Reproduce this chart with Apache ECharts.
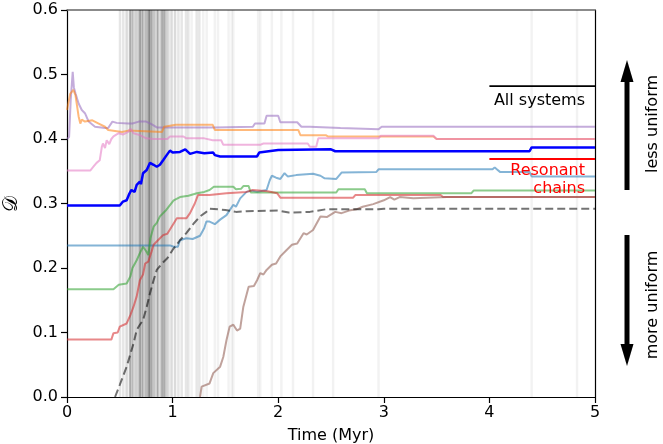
<!DOCTYPE html>
<html>
<head>
<meta charset="utf-8">
<script src="https://cdn.jsdelivr.net/npm/echarts@6/dist/echarts.min.js"></script>
<style>
  html, body { margin: 0; padding: 0; background: #fff; }
  #chart { width: 663px; height: 444px; }
</style>
</head>
<body>
<div id="chart"></div>
<script>
// Axis ticks
const xTicks = [0, 1, 2, 3, 4, 5];
const yTicks = [0.0, 0.1, 0.2, 0.3, 0.4, 0.5, 0.6];

// Times of instability events (Myr) and how many systems had one there
const eventTimes  = [0.502, 0.533, 0.565, 0.597, 0.612, 0.628, 0.653, 0.675, 0.691, 0.707, 0.723, 0.748, 0.773, 0.79, 0.802, 0.824, 0.849, 0.865, 0.896, 0.918, 0.938, 0.96, 0.99, 1.023, 1.055, 1.086, 1.127, 1.149, 1.18, 1.228, 1.253, 1.29, 1.323, 1.40, 1.43, 1.53, 1.56, 1.575, 1.81, 1.83, 1.94, 2.03, 2.14, 2.33, 2.52, 2.95, 4.40, 4.83];
const eventCounts = [2, 2, 3, 6, 3, 4, 4, 3, 7, 4, 5, 6, 10, 5, 5, 5, 4, 5, 7, 7, 4, 3, 3, 3, 2, 2, 2, 2, 1, 2, 2, 1, 1, 1, 1, 1, 1, 1, 1, 1, 1, 1, 1, 1, 1, 1, 1, 1];

// Uniformity D(t) of individual systems: [time (Myr), D]
const purpleRun = [[0,0.40],[0.02,0.403],[0.035,0.46],[0.054,0.504],[0.065,0.48],[0.08,0.471],[0.11,0.455],[0.14,0.445],[0.17,0.44],[0.205,0.427],[0.265,0.419],[0.36,0.417],[0.39,0.417],[0.43,0.427],[0.47,0.425],[0.58,0.424],[0.62,0.424],[0.68,0.427],[0.75,0.427],[0.8,0.423],[0.85,0.418],[1.4,0.418],[1.76,0.419],[1.78,0.424],[1.87,0.424],[1.89,0.436],[2.0,0.436],[2.02,0.426],[2.18,0.426],[2.22,0.419],[2.3,0.419],[2.59,0.417],[2.95,0.415],[2.98,0.419],[5,0.419]];
const orangeRun = [[0,0.445],[0.01,0.445],[0.03,0.47],[0.06,0.476],[0.08,0.468],[0.11,0.435],[0.126,0.424],[0.14,0.43],[0.17,0.427],[0.24,0.429],[0.3,0.424],[0.36,0.419],[0.39,0.414],[0.52,0.411],[0.58,0.413],[0.9,0.411],[0.92,0.419],[1.03,0.422],[1.38,0.422],[1.40,0.414],[2.19,0.414],[2.21,0.406],[2.45,0.406],[2.47,0.404],[3.47,0.404],[3.5,0.40],[5,0.40]];
const pinkRun = [[0,0.351],[0.22,0.351],[0.25,0.357],[0.28,0.363],[0.31,0.367],[0.33,0.388],[0.34,0.393],[0.36,0.386],[0.376,0.398],[0.40,0.392],[0.42,0.40],[0.44,0.404],[0.49,0.409],[0.53,0.407],[0.58,0.411],[0.6,0.416],[0.63,0.409],[0.69,0.406],[0.75,0.401],[0.82,0.4],[0.95,0.4],[0.975,0.404],[1.1,0.404],[1.13,0.401],[1.3,0.401],[1.38,0.398],[1.46,0.398],[1.48,0.391],[1.83,0.391],[1.86,0.393],[2.28,0.393],[2.30,0.388],[2.36,0.388],[2.38,0.401],[2.95,0.401],[2.97,0.405],[3.47,0.405],[3.5,0.40],[5,0.40]];
const blueRun = [[0,0.297],[0.5,0.297],[0.53,0.303],[0.565,0.305],[0.59,0.315],[0.61,0.321],[0.64,0.318],[0.66,0.329],[0.69,0.334],[0.7,0.33],[0.72,0.347],[0.755,0.352],[0.786,0.363],[0.82,0.36],[0.85,0.357],[0.88,0.36],[0.91,0.367],[0.944,0.375],[0.975,0.382],[1.0,0.379],[1.07,0.38],[1.12,0.384],[1.165,0.377],[1.23,0.38],[1.3,0.378],[1.385,0.379],[1.40,0.375],[1.45,0.373],[1.8,0.373],[1.82,0.379],[2.0,0.383],[2.5,0.384],[2.54,0.381],[4.38,0.381],[4.4,0.387],[5,0.387]];
const skyRun = [[0,0.235],[0.975,0.235],[1.01,0.233],[1.05,0.233],[1.07,0.243],[1.13,0.246],[1.19,0.245],[1.26,0.25],[1.3,0.262],[1.32,0.272],[1.35,0.272],[1.4,0.268],[1.45,0.275],[1.51,0.282],[1.575,0.298],[1.6,0.295],[1.64,0.308],[1.7,0.318],[1.75,0.32],[1.8,0.318],[1.89,0.321],[1.92,0.336],[1.94,0.343],[1.98,0.34],[2.02,0.338],[2.06,0.347],[2.09,0.342],[2.17,0.344],[2.33,0.346],[2.4,0.343],[2.44,0.339],[2.55,0.338],[2.6,0.348],[2.93,0.349],[2.95,0.353],[4.03,0.353],[4.05,0.356],[4.07,0.353],[4.1,0.349],[4.38,0.349],[4.4,0.342],[5,0.342]];
const greenRun = [[0,0.167],[0.44,0.167],[0.49,0.174],[0.565,0.176],[0.6,0.187],[0.62,0.2],[0.66,0.212],[0.69,0.223],[0.72,0.233],[0.75,0.226],[0.77,0.22],[0.79,0.246],[0.82,0.264],[0.85,0.27],[0.88,0.28],[0.94,0.29],[1.01,0.305],[1.07,0.31],[1.15,0.312],[1.23,0.316],[1.3,0.318],[1.35,0.321],[1.39,0.326],[1.575,0.326],[1.6,0.322],[1.65,0.323],[1.67,0.327],[1.72,0.327],[1.74,0.317],[2.55,0.317],[2.57,0.322],[2.82,0.322],[2.84,0.316],[3.83,0.316],[3.85,0.32],[5,0.32]];
const redRun = [[0,0.089],[0.42,0.089],[0.44,0.099],[0.48,0.1],[0.5,0.109],[0.565,0.114],[0.6,0.127],[0.63,0.14],[0.66,0.156],[0.69,0.181],[0.72,0.19],[0.74,0.207],[0.77,0.21],[0.8,0.225],[0.82,0.236],[0.85,0.241],[0.91,0.251],[0.95,0.253],[1.01,0.269],[1.04,0.277],[1.13,0.277],[1.165,0.285],[1.21,0.3],[1.24,0.313],[1.35,0.313],[1.51,0.316],[1.7,0.318],[1.76,0.321],[1.9,0.319],[1.99,0.316],[2.02,0.309],[2.71,0.309],[2.73,0.313],[3.54,0.313],[3.56,0.31],[5,0.31]];
const brownRun = [[1.26,0.0],[1.275,0.016],[1.35,0.021],[1.385,0.037],[1.45,0.047],[1.48,0.062],[1.51,0.088],[1.54,0.109],[1.575,0.112],[1.61,0.103],[1.64,0.106],[1.67,0.14],[1.72,0.171],[1.77,0.172],[1.8,0.181],[1.83,0.192],[1.86,0.19],[1.89,0.197],[1.94,0.205],[1.98,0.207],[2.02,0.218],[2.08,0.228],[2.13,0.236],[2.18,0.238],[2.24,0.254],[2.27,0.252],[2.33,0.259],[2.4,0.28],[2.46,0.279],[2.54,0.287],[2.6,0.285],[2.67,0.289],[2.74,0.291],[2.8,0.295],[2.9,0.299],[3.0,0.305],[3.06,0.31],[3.1,0.306],[3.15,0.31],[3.28,0.308],[3.6,0.31],[5,0.31]];
// Mean over all systems (dashed)
const meanRun = [[0.455,0],[0.5,0.019],[0.565,0.047],[0.63,0.083],[0.66,0.104],[0.69,0.112],[0.72,0.119],[0.755,0.14],[0.786,0.161],[0.82,0.181],[0.85,0.197],[0.9,0.207],[0.95,0.215],[1.0,0.228],[1.07,0.243],[1.13,0.254],[1.2,0.269],[1.26,0.28],[1.32,0.287],[1.35,0.292],[1.5,0.29],[1.6,0.287],[1.7,0.288],[2.0,0.289],[2.1,0.286],[2.3,0.287],[2.45,0.291],[2.95,0.291],[3.0,0.292],[5,0.292]];

// Reference levels
const allSystemsLevel = [[4, 0.482], [5, 0.482]];
const resonantLevel   = [[4, 0.369], [5, 0.369]];

const FONT = 'DejaVu Sans';
const chart = echarts.init(document.getElementById('chart'), null, { renderer: 'canvas' });

function run(data, color, opacity, width, extra) {
  return Object.assign({
    type: 'line', data: data, symbol: 'none', showSymbol: false, silent: true,
    lineStyle: { color: color, width: width, opacity: opacity },
    z: 3
  }, extra || {});
}

const option = {
  animation: false,
  backgroundColor: '#fff',
  grid: { left: 67, top: 10, right: 68, bottom: 47, containLabel: false, outerBoundsMode: 'none' },
  xAxis: [{
    type: 'value', min: xTicks[0], max: xTicks[xTicks.length - 1], interval: 1,
    name: 'Time (Myr)', nameLocation: 'middle', nameGap: 31,
    nameTextStyle: { fontFamily: FONT, fontSize: 16, color: '#000' },
    axisLine: { show: true, onZero: false, lineStyle: { color: '#000', width: 1.2 } },
    axisTick: { show: true, inside: false, length: 6, lineStyle: { color: '#000', width: 1.2 } },
    axisLabel: { fontFamily: FONT, fontSize: 16, color: '#000', margin: 8 },
    splitLine: { show: false }
  }, {
    type: 'value', position: 'top', min: 0, max: 5,
    axisLine: { show: true, onZero: false, lineStyle: { color: '#666', width: 1.5 } },
    axisTick: { show: false }, axisLabel: { show: false }, splitLine: { show: false }
  }],
  yAxis: [{
    type: 'value', min: yTicks[0], max: yTicks[yTicks.length - 1], interval: 0.1,
    name: '𝒟', nameLocation: 'middle', nameGap: 40, nameRotate: 90,
    nameTextStyle: { fontFamily: FONT, fontSize: 20, color: '#000' },
    axisLine: { show: true, onZero: false, lineStyle: { color: '#000', width: 1.2 } },
    axisTick: { show: true, inside: false, length: 6, lineStyle: { color: '#000', width: 1.2 } },
    axisLabel: { fontFamily: FONT, fontSize: 16, color: '#000', margin: 9, formatter: v => v.toFixed(1) },
    splitLine: { show: false }
  }, {
    type: 'value', position: 'right', min: 0, max: 0.6,
    axisLine: { show: true, onZero: false, lineStyle: { color: '#000', width: 1.2 } },
    axisTick: { show: false }, axisLabel: { show: false }, splitLine: { show: false }
  }],
  series: [
    {
      type: 'custom', silent: true, z: 1, clip: true,
      data: eventTimes.map((t, i) => [t, eventCounts[i]]),
      encode: { x: 0 },
      renderItem: function (params, api) {
        const x = api.coord([api.value(0), 0])[0];
        const yTop = api.coord([0, yTicks[yTicks.length - 1]])[1];
        const yBot = api.coord([0, yTicks[0]])[1];
        return {
          type: 'rect',
          shape: { x: x - 1.25, y: yTop, width: 2.5, height: yBot - yTop },
          style: { fill: '#000', opacity: 1 - Math.pow(0.95, api.value(1)) }
        };
      }
    },
    run(purpleRun, '#9467bd', 0.55, 2),
    run(orangeRun, '#ff7f0e', 0.55, 2),
    run(pinkRun, '#e377c2', 0.55, 2),
    run(skyRun, '#1f77b4', 0.55, 2),
    run(greenRun, '#2ca02c', 0.55, 2),
    run(redRun, '#d62728', 0.55, 2),
    run(brownRun, '#8c564b', 0.55, 2),
    run(meanRun, '#000', 0.55, 2, { lineStyle: { color: '#000', opacity: 0.55, width: 2, type: [8, 4] } }),
    run(blueRun, '#0000ff', 1, 2.5, { z: 4 }),
    run(allSystemsLevel, '#000', 1, 1.8, { z: 4 }),
    run(resonantLevel, '#ff0000', 1, 1.8, { z: 4 })
  ],
  graphic: [
    { type: 'text', z: 10, style: { text: 'All systems', x: 585, y: 101, align: 'right', verticalAlign: 'middle', font: '16px "DejaVu Sans"', fill: '#000' } },
    { type: 'text', z: 10, style: { text: 'Resonant\nchains', x: 585, y: 180, align: 'right', verticalAlign: 'middle', font: '16px "DejaVu Sans"', lineHeight: 18, fill: '#ff0000' } },
    // arrows on the right
    { type: 'rect', z: 10, shape: { x: 624.5, y: 80, width: 5, height: 110 }, style: { fill: '#000' } },
    { type: 'polygon', z: 10, shape: { points: [[627, 60], [620.5, 82], [633.5, 82]] }, style: { fill: '#000' } },
    { type: 'rect', z: 10, shape: { x: 624.5, y: 235, width: 5, height: 110 }, style: { fill: '#000' } },
    { type: 'polygon', z: 10, shape: { points: [[627, 366], [620.5, 344], [633.5, 344]] }, style: { fill: '#000' } },
    { type: 'text', z: 10, x: 653, y: 124, rotation: Math.PI / 2, style: { text: 'less uniform', x: 0, y: 0, align: 'center', verticalAlign: 'middle', font: '16px "DejaVu Sans"', fill: '#000' } },
    { type: 'text', z: 10, x: 653, y: 305, rotation: Math.PI / 2, style: { text: 'more uniform', x: 0, y: 0, align: 'center', verticalAlign: 'middle', font: '16px "DejaVu Sans"', fill: '#000' } }
  ]
};
chart.setOption(option);
</script>
</body>
</html>
